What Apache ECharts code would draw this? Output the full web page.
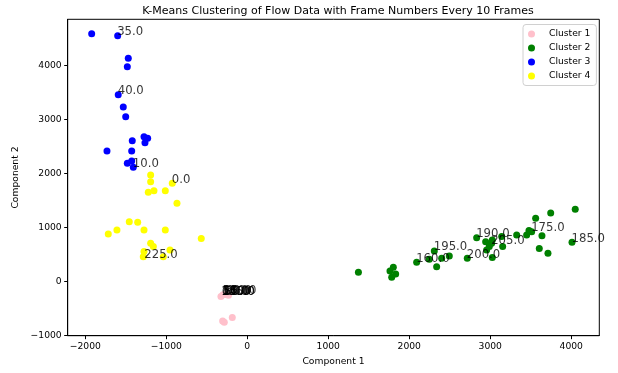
<!DOCTYPE html>
<html>
<head>
<meta charset="utf-8">
<script src="https://cdn.jsdelivr.net/npm/echarts@6/dist/echarts.min.js"></script>
<style>
  html, body { margin: 0; padding: 0; background: #fff; }
  #chart { width: 618px; height: 373px; }
</style>
</head>
<body>
<div id="chart"></div>
<script>
// points, [component1, component2]
const cluster1 = [
  [-325, -277], [-304, -726], [-284, -750], [-185, -665],
  [-300, -245], [-262, -240], [-232, -250]
];
const cluster2 = [
  [1372, 173], [1762, 198], [1803, 266], [1832, 142], [1783, 81],
  [2091, 358], [2247, 414], [2309, 567], [2338, 277], [2400, 432],
  [2494, 475], [2716, 432], [2832, 813], [2943, 739], [3025, 771],
  [2955, 586], [2988, 647], [3017, 710], [3025, 444], [3141, 832],
  [3153, 647], [3326, 863], [3449, 863], [3478, 943], [3511, 924],
  [3560, 1172], [3638, 850], [3746, 1270], [3605, 610], [3712, 525],
  [4049, 1338], [4009, 728]
];
const cluster3 = [
  [-1921, 4584], [-1600, 4547], [-1469, 4129], [-1481, 3974], [-1593, 3457],
  [-1531, 3229], [-1501, 3050], [-1275, 2680], [-1230, 2651], [-1263, 2569],
  [-1420, 2606], [-1732, 2416], [-1427, 2416], [-1481, 2188], [-1427, 2231],
  [-1407, 2115]
];
const cluster4 = [
  [-1193, 1972], [-1193, 1848], [-926, 1819], [-1222, 1652], [-1152, 1682],
  [-1012, 1682], [-868, 1449], [-1457, 1109], [-1353, 1098], [-1275, 956],
  [-1012, 956], [-1609, 956], [-1716, 882], [-568, 795], [-1193, 710],
  [-1160, 647], [-954, 586], [-1275, 555], [-1284, 462], [-1037, 462]
];
// frame labels [x, y, text]
const frameLabels = [
  [-1600, 4547, "35.0"], [-1593, 3457, "40.0"], [-1407, 2115, "10.0"],
  [-926, 1819, "0.0"], [-1265, 425, "225.0"],
  [2091, 358, "160.0"], [2309, 567, "195.0"], [2716, 432, "200.0"],
  [2832, 813, "190.0"], [3017, 680, "205.0"], [3511, 924, "175.0"],
  [4009, 728, "185.0"],
  [-316, -251, "145.0"], [-300, -245, "50.0"], [-280, -250, "55.0"], [-262, -245, "60.0"],
  [-308, -248, "65.0"], [-290, -252, "70.0"], [-270, -247, "80.0"], [-312, -250, "130.0"],
  [-295, -246, "150.0"]
];
const clusterNames = ["Cluster 1", "Cluster 2", "Cluster 3", "Cluster 4"];
const clusterColors = ["#ffc0cb", "#008000", "#0000ff", "#ffff00"];
const xRange = [-2217, 4346];
const yRange = [-1000, 4850];

const FONT = "DejaVu Sans";
const chart = echarts.init(document.getElementById("chart"));

const clusterSeries = [cluster1, cluster2, cluster3, cluster4].map((d, i) => ({
  name: clusterNames[i],
  type: "scatter",
  data: d,
  symbolSize: 7,
  itemStyle: { color: clusterColors[i], opacity: 1 },
  emphasis: { disabled: true },
  z: 2 + i
}));

const labelSeries = {
  type: "scatter",
  data: frameLabels.map(l => ({ value: [l[0], l[1]], name: l[2] })),
  symbolSize: 1,
  itemStyle: { color: "rgba(0,0,0,0)" },
  label: {
    show: true,
    formatter: p => p.name,
    position: [0, 3],
    align: "left",
    verticalAlign: "bottom",
    color: "#000",
    fontFamily: FONT,
    fontSize: 11.7
  },
  labelLayout: { hideOverlap: false },
  emphasis: { disabled: true },
  z: 10
};

const axisCommon = {
  type: "value",
  splitNumber: 5,
  splitLine: { show: false },
  axisLine: { show: true, onZero: false, lineStyle: { color: "#000", width: 1 } },
  axisTick: { show: true, inside: false, length: 3.5, lineStyle: { color: "#000", width: 1 } },
  nameTextStyle: { color: "#000", fontFamily: FONT, fontSize: 9.2 }
};

chart.setOption({
  animation: false,
  backgroundColor: "#fff",
  title: {
    text: "K-Means Clustering of Flow Data with Frame Numbers Every 10 Frames",
    left: 333, top: 1, textAlign: "center",
    textStyle: { color: "#000", fontFamily: FONT, fontSize: 11, fontWeight: "normal" }
  },
  legend: {
    data: clusterNames.map((n, i) => ({ name: n, icon: "circle", itemStyle: { color: clusterColors[i] } })),
    orient: "vertical",
    left: 523, top: 24.5,
    itemWidth: 25, itemHeight: 7, itemGap: 5,
    padding: [5, 6, 5, 5],
    backgroundColor: "#fff",
    borderColor: "#d0d0d0", borderWidth: 1, borderRadius: 3,
    textStyle: { color: "#000", fontFamily: FONT, fontSize: 9.2 }
  },
  grid: {
    left: 67.7, right: 18.7, top: 19.3, bottom: 37.3,
    show: true, borderColor: "#000", borderWidth: 1, backgroundColor: "transparent"
  },
  xAxis: {
    ...axisCommon,
    min: xRange[0], max: xRange[1],
    name: "Component 1", nameLocation: "middle", nameGap: 21,
    axisLabel: { color: "#000", fontFamily: FONT, fontSize: 9.2, margin: 6, showMinLabel: false, showMaxLabel: false,
      formatter: v => (v < 0 ? "\u2212" + Math.abs(v) : String(v)) }
  },
  yAxis: {
    ...axisCommon,
    min: yRange[0], max: yRange[1],
    name: "Component 2", nameLocation: "middle", nameGap: 45,
    axisLabel: { color: "#000", fontFamily: FONT, fontSize: 9.2, margin: 6, showMinLabel: true, showMaxLabel: false,
      formatter: v => (v < 0 ? "\u2212" + Math.abs(v) : String(v)) }
  },
  series: [...clusterSeries, labelSeries]
});
</script>
</body>
</html>
